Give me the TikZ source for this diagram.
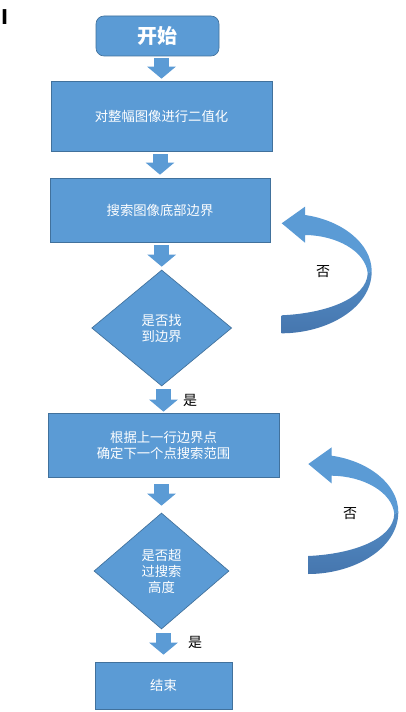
\documentclass[tikz,border=0pt]{standalone}
\usepackage{fontspec}
\newfontfamily\cjk{Noto Sans CJK SC}
\usetikzlibrary{arrows.meta,shapes.geometric,positioning}

\definecolor{boxblue}{HTML}{5B9BD5}
\definecolor{boxline}{HTML}{41719C}
\definecolor{banddark}{HTML}{4676AE}

\tikzset{
  stepbox/.style={draw=boxline, fill=boxblue, text=white, line width=0.5pt,
    font=\cjk\fontsize{10}{12}\selectfont, align=center, inner sep=0pt},
  decision/.style={stepbox, diamond},
  blockarrow/.style={draw=boxblue, line width=11.25pt,
    -{Triangle[width=21pt,length=9pt]}},
  answer/.style={font=\cjk\fontsize{10.5}{12}\selectfont, inner sep=0pt}
}

% curved "no" band, tip at (0,0)
\newcommand{\uturnband}{%
  \fill[boxblue] (0,0) -- (23.3,-16.6) -- (23.3,-8.3)
    .. controls (60,-3) and (90,20) .. (90,48) -- (86,50)
    .. controls (84,28) and (55,12) .. (23.3,11.7) -- (23.3,19.4) -- cycle;
  \shade[top color=boxblue!60!banddark, bottom color=banddark] (90,48)
    .. controls (90,85) and (45,110) .. (0,110) -- (0,92)
    .. controls (45,90) and (85,75) .. (86,50) -- cycle;
}

\begin{document}
\begin{tikzpicture}[x=0.75pt, y=-0.75pt]
\fill[white] (0,0) rectangle (405,712);
\useasboundingbox (0,0) rectangle (405,712);

\node[font=\cjk\bfseries\fontsize{15}{15}\selectfont, inner sep=0pt] (cursor) at (5,17) {I};

% Steps
\node[stepbox, rounded corners=6pt, minimum width=92.25pt, minimum height=30pt,
  font=\cjk\bfseries\fontsize{15}{18}\selectfont] (start) at (157.5,36) {开始};
\node[stepbox, minimum width=165.75pt, minimum height=52.5pt] (binar) at (161.5,116) {对整幅图像进行二值化};
\node[stepbox, minimum width=165pt, minimum height=48pt] (search) at (160,210) {搜索图像底部边界};
\node[decision, minimum width=105pt, minimum height=87pt] (found) at (161.7,328) {是否找\\到边界};
\node[stepbox, minimum width=173.25pt, minimum height=48pt] (range) at (163.5,445) {根据上一行边界点\\确定下一个点搜索范围};
\node[decision, minimum width=101.25pt, minimum height=87pt] (height) at (161.5,571) {是否超\\过搜索\\高度};
\node[stepbox, minimum width=102.75pt, minimum height=35.25pt] (stop) at (163.5,685.5) {结束};

% Block arrows
\foreach \a/\b/\s/\e in {start/binar/1.5pt/1.5pt, binar/search/2.25pt/2.25pt,
    search/found/2.25pt/2.25pt, found/range/2.25pt/0.75pt,
    range/height/5.25pt/5.25pt, height/stop/3pt/5.25pt}
  \draw[blockarrow, shorten <=\s, shorten >=\e] (\b.north |- \a.south) -- (\b.north);

\node[answer] (yes1) at (190,400) {是};
\node[answer] (yes2) at (195,642) {是};

% Loops back
\coordinate (loop1) at (281.7,223.3);
\coordinate (loop2) at (308.3,464);
\begin{scope}[shift={(loop1)}]
  \uturnband
\end{scope}
\begin{scope}[shift={(loop2)}]
  \uturnband
\end{scope}

\node[answer] (no1) at (323,272) {否};
\node[answer] (no2) at (350,514) {否};
\end{tikzpicture}
\end{document}
